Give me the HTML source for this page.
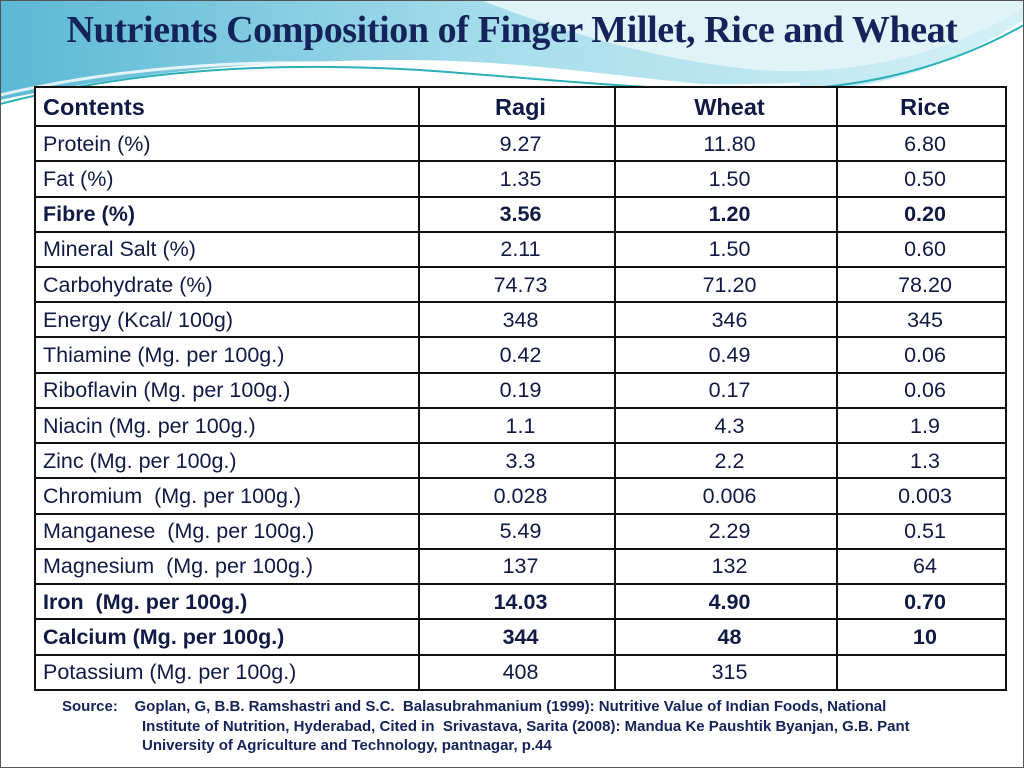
<!DOCTYPE html>
<html><head><meta charset="utf-8"><style>
html,body{margin:0;padding:0}
body{width:1024px;height:768px;position:relative;overflow:hidden;background:#fff;font-family:"Liberation Sans",sans-serif}
#bg{position:absolute;left:0;top:0}
h1{position:absolute;left:0;width:1024px;top:8px;margin:0;text-align:center;font-family:"Liberation Serif",serif;font-weight:bold;font-size:38px;color:#14245a;letter-spacing:-0.4px}
table{position:absolute;left:34px;top:86px;width:971px;height:605px;border-collapse:collapse;table-layout:fixed;color:#0f1a45;font-size:21.5px;background:#fff}
td{border:2px solid #111;padding:0 0 0 7px;text-align:center;line-height:22px}
tr{height:35.2px}
td:first-child{text-align:left}
tr.h{height:39px}
tr.h td{font-weight:bold;font-size:23.5px}
tr.b td{font-weight:bold}
.src{position:absolute;left:62px;top:697px;font-size:15px;font-weight:bold;color:#14245a;line-height:19.5px}
.src div{padding-left:80px}
.frame{position:absolute;left:0;top:0;width:1022px;height:766px;border:1px solid #555}
</style></head><body>
<svg id="bg" width="1024" height="768">
<defs><linearGradient id="g" x1="0" y1="0" x2="1" y2="0"><stop offset="0" stop-color="#5bb8d4"/><stop offset="0.5" stop-color="#a8deec"/><stop offset="1" stop-color="#d4f0f6"/></linearGradient></defs>
<path d="M0 0 H1024 V20 C960 60 880 95 780 90 C640 82 540 60 400 60 C250 60 120 75 0 100 Z" fill="url(#g)"/>
<path d="M480 0 C560 30 650 60 760 70 C880 78 970 40 1024 8 V0 Z" fill="#e0f4f8"/>
<path d="M0 104 C140 68 280 62 420 70 C560 80 660 92 780 90 C900 86 980 50 1024 25" fill="none" stroke="#2ab0b8" stroke-width="2"/>
<path d="M0 95 C150 60 300 58 440 68 C560 78 660 90 800 84" fill="none" stroke="#fff" stroke-width="3" opacity="0.8"/>
</svg>
<h1>Nutrients Composition of Finger Millet, Rice and Wheat</h1>
<table>
<colgroup><col style="width:384px"><col style="width:196px"><col style="width:222px"><col style="width:169px"></colgroup>
<tr class="h"><td>Contents</td><td>Ragi</td><td>Wheat</td><td>Rice</td></tr>
<tr><td>Protein (%)</td><td>9.27</td><td>11.80</td><td>6.80</td></tr>
<tr><td>Fat (%)</td><td>1.35</td><td>1.50</td><td>0.50</td></tr>
<tr class="b"><td>Fibre (%)</td><td>3.56</td><td>1.20</td><td>0.20</td></tr>
<tr><td>Mineral Salt (%)</td><td>2.11</td><td>1.50</td><td>0.60</td></tr>
<tr><td>Carbohydrate (%)</td><td>74.73</td><td>71.20</td><td>78.20</td></tr>
<tr><td>Energy (Kcal/ 100g)</td><td>348</td><td>346</td><td>345</td></tr>
<tr><td>Thiamine (Mg. per 100g.)</td><td>0.42</td><td>0.49</td><td>0.06</td></tr>
<tr><td>Riboflavin (Mg. per 100g.)</td><td>0.19</td><td>0.17</td><td>0.06</td></tr>
<tr><td>Niacin (Mg. per 100g.)</td><td>1.1</td><td>4.3</td><td>1.9</td></tr>
<tr><td>Zinc (Mg. per 100g.)</td><td>3.3</td><td>2.2</td><td>1.3</td></tr>
<tr><td>Chromium&nbsp; (Mg. per 100g.)</td><td>0.028</td><td>0.006</td><td>0.003</td></tr>
<tr><td>Manganese&nbsp; (Mg. per 100g.)</td><td>5.49</td><td>2.29</td><td>0.51</td></tr>
<tr><td>Magnesium&nbsp; (Mg. per 100g.)</td><td>137</td><td>132</td><td>64</td></tr>
<tr class="b"><td>Iron&nbsp; (Mg. per 100g.)</td><td>14.03</td><td>4.90</td><td>0.70</td></tr>
<tr class="b"><td>Calcium (Mg. per 100g.)</td><td>344</td><td>48</td><td>10</td></tr>
<tr><td>Potassium (Mg. per 100g.)</td><td>408</td><td>315</td><td></td></tr>
</table>
<div class="src">Source:&nbsp;&nbsp;&nbsp; Goplan, G, B.B. Ramshastri and S.C.&nbsp; Balasubrahmanium (1999): Nutritive Value of Indian Foods, National<div>Institute of Nutrition, Hyderabad, Cited in&nbsp; Srivastava, Sarita (2008): Mandua Ke Paushtik Byanjan, G.B. Pant</div><div>University of Agriculture and Technology, pantnagar, p.44</div></div>
<div class="frame"></div>
</body></html>
